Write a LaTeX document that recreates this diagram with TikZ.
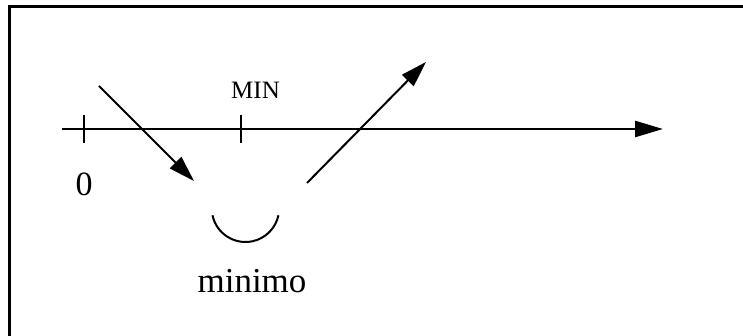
\documentclass[tikz,border=0pt]{standalone}
\usepackage{fontspec}
\setmainfont{Liberation Serif}
\usetikzlibrary{arrows.meta,positioning}

\begin{document}
\begin{tikzpicture}[
  x=1pt, y=-1pt,
  lbl/.style={inner sep=0pt},
  axisline/.style={line width=2.5pt, -{Triangle[length=28pt, width=16pt]}},
  tickmark/.style={line width=2pt},
  move/.style={line width=2pt, -{Triangle[length=26pt, width=16pt]}}]
\useasboundingbox (0,0) rectangle (743,336);
\clip (0,0) rectangle (743,336);
\draw[line width=3pt] (9.5,6.5) rectangle (760,352);
\coordinate (ax0) at (62,129);
\coordinate (ax1) at (663,129);
\coordinate (t0) at (84,129);
\coordinate (tmin) at (241,129);
\coordinate (inS) at (99,86);
\coordinate (inE) at (194,181);
\coordinate (outS) at (307,183);
\coordinate (outE) at (426,62);
\coordinate (arcL) at (212.5,215.3);
\node[lbl, font=\fontsize{34}{40}\selectfont, below=44pt of t0] (zero) {0};
\node[lbl, font=\fontsize{25}{30}\selectfont, anchor=base west] (minlbl) at (231,99) {MIN};
\node[lbl, font=\fontsize{35}{42}\selectfont, anchor=base] (minimo) at (252,292) {minimo};
\draw[axisline] (ax0) -- (ax1);
\draw[tickmark] (t0) ++(0,-14) -- ++(0,28);
\draw[tickmark] (tmin) ++(0,-14) -- ++(0,28);
\draw[move] (inS) -- (inE);
\draw[move] (outS) -- (outE);
\draw[line width=2pt] (arcL) arc[start angle=168, end angle=12, radius=33.7];
\end{tikzpicture}
\end{document}
